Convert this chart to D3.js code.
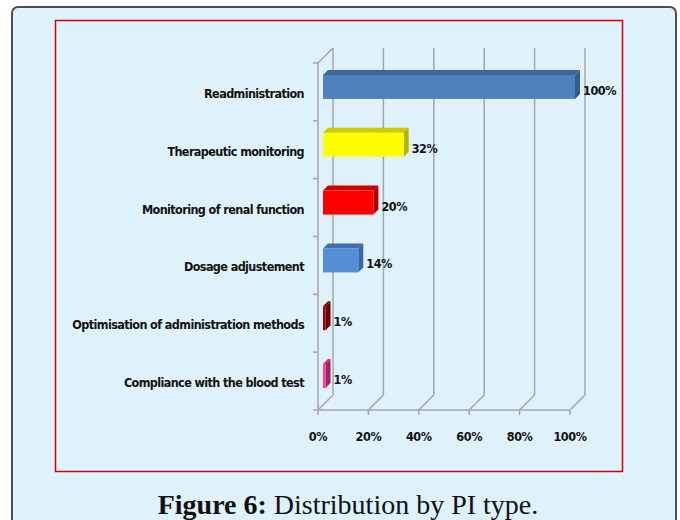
<!DOCTYPE html>
<html>
<head>
<meta charset="utf-8">
<script src="https://cdn.jsdelivr.net/npm/d3@7"></script>
<style>
  body { margin: 0; background: #ffffff; }
  svg { display: block; }
  .cat { font-family: "Liberation Sans Narrow", "DejaVu Sans Condensed", sans-serif; font-weight: bold; font-size: 12.5px; letter-spacing: -0.6px; fill: #111; }
  .val { font-family: "Liberation Sans Narrow", "DejaVu Sans Condensed", sans-serif; font-weight: bold; font-size: 12.5px; letter-spacing: -0.4px; fill: #111; }
  .tick-label { font-family: "Liberation Sans Narrow", "DejaVu Sans Condensed", sans-serif; font-weight: bold; font-size: 12.5px; letter-spacing: -0.4px; fill: #111; }
</style>
</head>
<body>
<div id="chart"></div>
<script>
// data
const categories = [
  "Readministration",
  "Therapeutic monitoring",
  "Monitoring of renal function",
  "Dosage adjustement",
  "Optimisation of administration methods",
  "Compliance with the blood test"
];
const values = [100, 32, 20, 14, 1, 1];
const ticks = [0, 20, 40, 60, 80, 100];

// face colours for each bar: front, top, side
const frontColors = ["#4f81bd", "#ffff00", "#ff0000", "#558ed5", "#a00000", "#ff3d9e"];
const topColors   = ["#3d6699", "#cccc00", "#cc0000", "#3f6fb0", "#7a0000", "#c42a78"];
const sideColors  = ["#385d8a", "#b3b300", "#b30000", "#3a67a3", "#6e0000", "#a3235f"];

const width = 680, height = 520;
const depth = 15;      // back wall offset
const barNear = 5;     // bar front depth
const barFar = 10;     // bar back depth

const svg = d3.select("#chart").append("svg")
  .attr("width", width)
  .attr("height", height);

// outer panel and red frame
svg.append("rect")
  .attr("x", 12).attr("y", 7)
  .attr("width", 664).attr("height", 540)
  .attr("rx", 6)
  .attr("fill", "#dff1fb")
  .attr("stroke", "#4d4d4d")
  .attr("stroke-width", 2);

svg.append("rect")
  .attr("x", 55.5).attr("y", 20.5)
  .attr("width", 567).attr("height", 451)
  .attr("fill", "none")
  .attr("stroke", "#d40000")
  .attr("stroke-width", 1.5);

const x = d3.scaleLinear().domain([0, 100]).range([318, 570]);
const y = d3.scaleBand().domain(categories).range([63, 410]);
const yBottom = 410, yTop = 63;
const barH = y.bandwidth() * 0.415;

const grid = svg.append("g")
  .attr("stroke", "#a6a6a6")
  .attr("stroke-width", 1.5)
  .attr("fill", "none");

// back wall gridlines + floor diagonals
ticks.forEach(t => {
  grid.append("line")
    .attr("x1", x(t) + depth).attr("x2", x(t) + depth)
    .attr("y1", yTop - depth).attr("y2", yBottom - depth);
  grid.append("line")
    .attr("x1", x(t)).attr("y1", yBottom)
    .attr("x2", x(t) + depth).attr("y2", yBottom - depth);
  grid.append("line")
    .attr("x1", x(t)).attr("x2", x(t))
    .attr("y1", yBottom).attr("y2", yBottom + 5);
});

// left wall
grid.append("line")
  .attr("x1", x(0)).attr("x2", x(0))
  .attr("y1", yTop).attr("y2", yBottom);
grid.append("line")
  .attr("x1", x(0)).attr("y1", yTop)
  .attr("x2", x(0) + depth).attr("y2", yTop - depth);
// floor front edge
grid.append("line")
  .attr("x1", x(0)).attr("x2", x(100))
  .attr("y1", yBottom).attr("y2", yBottom);

// category ticks
const bounds = categories.map(c => y(c)).concat([yBottom]);
bounds.forEach(b => {
  grid.append("line")
    .attr("x1", x(0) - 5).attr("x2", x(0))
    .attr("y1", b).attr("y2", b);
});

// bars
const bars = svg.append("g").selectAll("g")
  .data(categories)
  .join("g");

function frontBox(c, i) {
  const cy = y(c) + y.bandwidth() / 2 - barNear;
  return {
    x0: x(0) + barNear,
    x1: x(values[i]) + barNear,
    y0: cy - barH / 2,
    y1: cy + barH / 2
  };
}
const dd = barFar - barNear;

bars.append("path")
  .attr("fill", (d, i) => topColors[i])
  .attr("d", (d, i) => {
    const b = frontBox(d, i);
    return `M${b.x0},${b.y0}L${b.x0 + dd},${b.y0 - dd}L${b.x1 + dd},${b.y0 - dd}L${b.x1},${b.y0}Z`;
  });

bars.append("path")
  .attr("fill", (d, i) => sideColors[i])
  .attr("d", (d, i) => {
    const b = frontBox(d, i);
    return `M${b.x1},${b.y0}L${b.x1 + dd},${b.y0 - dd}L${b.x1 + dd},${b.y1 - dd}L${b.x1},${b.y1}Z`;
  });

bars.append("rect")
  .attr("fill", (d, i) => frontColors[i])
  .attr("x", (d, i) => frontBox(d, i).x0)
  .attr("y", (d, i) => frontBox(d, i).y0)
  .attr("width", (d, i) => frontBox(d, i).x1 - frontBox(d, i).x0)
  .attr("height", barH);

// value labels
bars.append("text")
  .attr("class", "val")
  .attr("x", (d, i) => x(values[i]) + barFar + 3)
  .attr("y", (d, i) => y(d) + y.bandwidth() / 2 - barNear + 4.5)
  .attr("dominant-baseline", "middle")
  .text((d, i) => values[i] + "%");

// category labels
svg.append("g").selectAll("text")
  .data(categories)
  .join("text")
  .attr("class", "cat")
  .attr("x", 304)
  .attr("y", d => y(d) + y.bandwidth() / 2 + 2.5)
  .attr("text-anchor", "end")
  .attr("dominant-baseline", "middle")
  .text(d => d);

// x tick labels
svg.append("g").selectAll("text")
  .data(ticks)
  .join("text")
  .attr("class", "tick-label")
  .attr("x", d => x(d))
  .attr("y", 437)
  .attr("text-anchor", "middle")
  .attr("dominant-baseline", "middle")
  .text(d => d + "%");

// caption
const cap = svg.append("text")
  .attr("x", 348)
  .attr("y", 514)
  .attr("text-anchor", "middle")
  .style("font-family", "'Liberation Serif', 'DejaVu Serif', serif")
  .style("font-size", "28px")
  .style("fill", "#111");
cap.append("tspan").style("font-weight", "bold").text("Figure 6:");
cap.append("tspan").text(" Distribution by PI type.");
</script>
</body>
</html>
